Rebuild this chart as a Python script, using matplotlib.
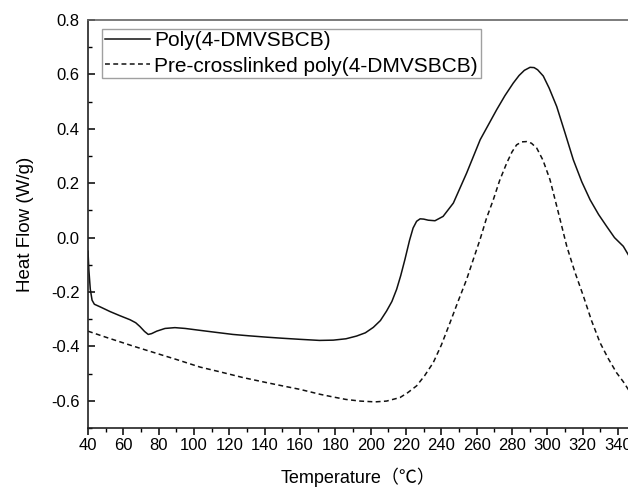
import matplotlib
matplotlib.use("Agg")
import matplotlib.pyplot as plt
from matplotlib.ticker import MultipleLocator

# values
temp_poly = [40, 40.5, 41.3, 42.3, 43.6, 47, 52.5, 58, 63.8, 67, 69.4, 72, 74.1, 76,
             78.9, 83.6, 89.2, 95, 103.4, 112, 122, 131, 141, 150, 160, 171, 178.8,
             186, 192, 197, 201.5, 205.5, 209, 212, 214.7, 217, 219.4, 222, 224, 226,
             228, 230, 232.6, 236.4, 241, 246.8, 254.3, 262, 271.3, 276, 280.7, 284,
             287, 290.2, 292.5, 294.5, 297.7, 301, 305.3, 310, 314.7, 319.5, 324.2,
             329, 333.6, 338, 343, 346]
flow_poly = [-0.05, -0.12, -0.19, -0.23, -0.245, -0.255, -0.272, -0.287, -0.302, -0.313,
             -0.327, -0.345, -0.356, -0.353, -0.344, -0.334, -0.331, -0.334, -0.341,
             -0.348, -0.356, -0.361, -0.366, -0.370, -0.374, -0.378, -0.377, -0.372,
             -0.362, -0.35, -0.33, -0.305, -0.27, -0.235, -0.19, -0.14, -0.08, -0.01,
             0.035, 0.06, 0.069, 0.068, 0.064, 0.062, 0.078, 0.127, 0.237, 0.36, 0.47,
             0.522, 0.568, 0.596, 0.615, 0.626, 0.625, 0.617, 0.594, 0.55, 0.482, 0.385,
             0.286, 0.205, 0.139, 0.085, 0.041, 0.0, -0.032, -0.065]

temp_pre = [40, 50, 65.6, 80, 90, 103.4, 115, 128, 141, 150, 160, 171.3, 178.8, 186, 194,
            202.5, 209, 216.6, 221, 226, 230.5, 235.4, 240, 244.9, 249.5, 254.3, 258,
            261.9, 265.5, 269.4, 273, 277, 280, 282.6, 285.5, 288.3, 291, 294, 297.5,
            301.5, 306, 311, 315.5, 320.4, 325, 329.8, 334.5, 339.2, 343, 346]
flow_pre = [-0.344, -0.366, -0.399, -0.428, -0.448, -0.476, -0.494, -0.515, -0.533,
            -0.545, -0.558, -0.576, -0.586, -0.595, -0.601, -0.604, -0.601, -0.588,
            -0.57, -0.545, -0.508, -0.46, -0.395, -0.313, -0.234, -0.154, -0.082,
            -0.007, 0.07, 0.139, 0.21, 0.274, 0.315, 0.341, 0.352, 0.353, 0.347, 0.329,
            0.285, 0.213, 0.098, -0.032, -0.125, -0.215, -0.305, -0.386, -0.445, -0.497,
            -0.53, -0.56]

labels = ["Poly(4-DMVSBCB)", "Pre-crosslinked poly(4-DMVSBCB)"]

plt.rcParams["font.family"] = ["Liberation Sans", "Noto Sans CJK SC", "DejaVu Sans"]

fig = plt.figure(figsize=(6.28, 4.87), dpi=100)
ax = fig.add_axes([88 / 628, 59 / 487, 540 / 628, 408 / 487])

ax.plot(temp_poly, flow_poly, color="#111111", linewidth=1.1, label=labels[0])
ax.plot(temp_pre, flow_pre, color="#111111", linewidth=1.1,
        linestyle=(0, (3.2, 2.2)), label=labels[1])

ax.set_xlim(40, 40 + 540 / 1.7667)
ax.set_ylim(-0.7, 0.8)
ax.xaxis.set_major_locator(MultipleLocator(20))
ax.xaxis.set_minor_locator(MultipleLocator(10))
ax.yaxis.set_major_locator(MultipleLocator(0.2))
ax.yaxis.set_minor_locator(MultipleLocator(0.1))
ax.yaxis.set_major_formatter(lambda v, p: f"{v:.1f}")

ax.tick_params(axis="x", which="major", direction="out", length=5, width=1.1,
               labelsize=12, pad=2)
ax.tick_params(axis="x", which="minor", direction="out", length=2.6, width=1.0)
ax.tick_params(axis="y", which="major", direction="in", length=5, width=1.1,
               labelsize=12, pad=6)
ax.tick_params(axis="y", which="minor", direction="in", length=2.6, width=1.0)

for side in ("left", "bottom"):
    ax.spines[side].set_linewidth(1.2)
    ax.spines[side].set_color("#222222")
ax.spines["top"].set_linewidth(1.2)
ax.spines["top"].set_color("#666666")
ax.spines["right"].set_visible(False)

ax.set_xlabel("Temperature（℃）", fontsize=13, labelpad=11)
ax.set_ylabel("Heat Flow (W/g)", fontsize=13.5, labelpad=12)

leg = ax.legend(loc="upper left", bbox_to_anchor=(14 / 540, 1 - 9 / 408),
                borderaxespad=0, fontsize=15, handlelength=2.2,
                handletextpad=0.2, labelspacing=0.3, borderpad=0.12,
                fancybox=False, frameon=True)
leg.get_frame().set_edgecolor("#888888")
leg.get_frame().set_linewidth(1.0)

fig.savefig("out.png", dpi=100)
